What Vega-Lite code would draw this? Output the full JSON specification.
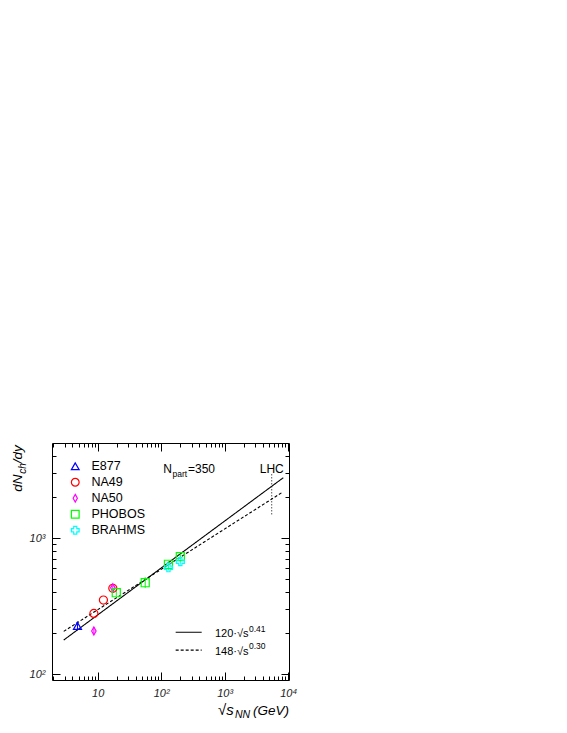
{
  "$schema": "https://vega.github.io/schema/vega-lite/v6.json",
  "width": 237,
  "height": 237,
  "autosize": "none",
  "padding": {"left": 52, "top": 443, "right": 278, "bottom": 53},
  "background": "white",
  "config": {
    "view": {"stroke": "black", "strokeWidth": 1},
    "font": "Liberation Sans"
  },
  "datasets": {
    "pts": [
      {"exp": "E877", "x": 4.8, "y": 226, "lo": 210, "hi": 243},
      {"exp": "NA49", "x": 8.7, "y": 279},
      {"exp": "NA49", "x": 12.3, "y": 350},
      {"exp": "NA49", "x": 17.3, "y": 427},
      {"exp": "NA50", "x": 8.7, "y": 207, "lo": 196, "hi": 222},
      {"exp": "NA50", "x": 17.3, "y": 430, "lo": 412, "hi": 448},
      {"exp": "PHOBOS", "x": 19.6, "y": 396, "lo": 375, "hi": 415},
      {"exp": "PHOBOS", "x": 56, "y": 469, "lo": 430, "hi": 515},
      {"exp": "PHOBOS", "x": 130, "y": 641, "lo": 610, "hi": 675},
      {"exp": "PHOBOS", "x": 200, "y": 730, "lo": 700, "hi": 765},
      {"exp": "BRAHMS", "x": 130, "y": 605, "lo": 578, "hi": 635},
      {"exp": "BRAHMS", "x": 200, "y": 670, "lo": 638, "hi": 705}
    ],
    "fits": [
      {"fit": "120", "grp": "curve120", "x": 2.915, "y": 177.8},
      {"fit": "120", "grp": "curve120", "x": 8375, "y": 2776},
      {"fit": "148", "grp": "curve148", "x": 2.915, "y": 206},
      {"fit": "148", "grp": "curve148", "x": 7907, "y": 2154},
      {"fit": "120", "grp": "key120", "x": 169, "y": 203},
      {"fit": "120", "grp": "key120", "x": 434, "y": 203},
      {"fit": "148", "grp": "key148", "x": 169, "y": 150},
      {"fit": "148", "grp": "key148", "x": 434, "y": 150}
    ],
    "lhc": [{"x": 5500, "y": 1493, "y2": 2990}],
    "notes": [
      {"kind": "main", "t": "N", "x": 108, "y": 3006},
      {"kind": "main", "t": "=350", "x": 264, "y": 3006},
      {"kind": "formula", "t": "120·√s", "x": 703, "y": 188},
      {"kind": "formula", "t": "148·√s", "x": 703, "y": 138},
      {"kind": "small", "t": "part", "x": 150.7, "y": 2831},
      {"kind": "small", "t": "0.41", "x": 2416, "y": 205},
      {"kind": "small", "t": "0.30", "x": 2416, "y": 153},
      {"kind": "center", "t": "LHC", "x": 5500, "y": 3006},
      {"kind": "ytitle", "t": "dN", "x": 0.643, "y": 2188},
      {"kind": "ytitlesub", "t": "ch", "x": 0.743, "y": 2974},
      {"kind": "ytitle", "t": " /dy", "x": 0.643, "y": 3548},
      {"kind": "xtitle", "t": "√s", "x": 784, "y": 50},
      {"kind": "xtitlesub", "t": "NN", "x": 1452, "y": 47.4},
      {"kind": "xtitleR", "t": "(GeV)", "x": 10294, "y": 50}
    ]
  },
  "layer": [
    {
      "layer": [
        {
          "data": {"name": "fits"},
          "mark": {"type": "line", "color": "black", "strokeWidth": 1.1},
          "encoding": {
            "x": {
              "field": "x", "type": "quantitative", "title": null,
              "scale": {"type": "log", "domain": [1.906, 10294], "nice": false},
              "axis": {
                "orient": "bottom",
                "values": [2,3,4,5,6,7,8,9,10,20,30,40,50,60,70,80,90,100,200,300,400,500,600,700,800,900,1000,2000,3000,4000,5000,6000,7000,8000,9000,10000],
                "labelExpr": "datum.value == 10 ? '10' : datum.value == 100 ? '10²' : datum.value == 1000 ? '10³' : datum.value == 10000 ? '10⁴' : ''",
                "tickSize": {"condition": {"test": "indexof([10,100,1000,10000], datum.value) >= 0", "value": -8}, "value": -4},
                "tickColor": "black",
                "tickWidth": 1,
                "labelPadding": 15,
                "domain": false,
                "grid": false,
                "labelFlush": false,
                "labelOverlap": false,
                "labelFont": "Liberation Sans",
                "labelFontStyle": "italic",
                "labelFontSize": 11,
                "labelColor": "#222"
              }
            },
            "y": {
              "field": "y", "type": "quantitative", "title": null,
              "scale": {"type": "log", "domain": [90.4, 4995], "nice": false},
              "axis": {
                "orient": "left",
                "values": [100,200,300,400,500,600,700,800,900,1000,2000,3000,4000],
                "labelExpr": "datum.value == 100 ? '10²' : datum.value == 1000 ? '10³' : ''",
                "tickSize": {"condition": {"test": "indexof([100,1000], datum.value) >= 0", "value": -8}, "value": -4},
                "tickColor": "black",
                "tickWidth": 1,
                "labelPadding": 15,
                "domain": false,
                "grid": false,
                "labelFlush": false,
                "labelOverlap": false,
                "labelFont": "Liberation Sans",
                "labelFontStyle": "italic",
                "labelFontSize": 11,
                "labelColor": "#222"
              }
            },
            "detail": {"field": "grp"},
            "strokeDash": {
              "field": "fit", "type": "nominal", "legend": null,
              "scale": {"domain": ["120", "148"], "range": [[1, 0], [3, 2]]}
            }
          }
        },
        {
          "data": {"name": "lhc"},
          "mark": {"type": "rule", "color": "black", "strokeWidth": 1, "strokeDash": [1, 2]},
          "encoding": {
            "x": {"field": "x", "type": "quantitative", "title": null},
            "y": {"field": "y", "type": "quantitative", "title": null},
            "y2": {"field": "y2"}
          }
        },
        {
          "data": {"name": "pts"},
          "transform": [{"filter": "isValid(datum.lo)"}],
          "mark": {"type": "rule", "strokeWidth": 1},
          "encoding": {
            "x": {"field": "x", "type": "quantitative", "title": null},
            "y": {"field": "lo", "type": "quantitative", "title": null},
            "y2": {"field": "hi"},
            "color": {
              "field": "exp", "type": "nominal",
              "scale": {"domain": ["E877", "NA49", "NA50", "PHOBOS", "BRAHMS"], "range": ["#0000ff", "#ff0000", "#ff00ff", "#00ff00", "#00ffff"]}
            }
          }
        },
        {
          "data": {"name": "pts"},
          "mark": {"type": "point", "filled": false, "size": 65, "strokeWidth": 1.2, "opacity": 1},
          "encoding": {
            "x": {"field": "x", "type": "quantitative", "title": null},
            "y": {"field": "y", "type": "quantitative", "title": null},
            "color": {
              "field": "exp", "type": "nominal",
              "scale": {"domain": ["E877", "NA49", "NA50", "PHOBOS", "BRAHMS"], "range": ["#0000ff", "#ff0000", "#ff00ff", "#00ff00", "#00ffff"]},
              "legend": {
                "orient": "none",
                "legendX": 17,
                "legendY": 17,
                "title": null,
                "symbolSize": 60,
                "symbolStrokeWidth": 1.2,
                "labelFont": "Liberation Sans",
                "labelFontSize": 12.5,
                "labelColor": "black",
                "labelOffset": 10,
                "rowPadding": 2
              }
            },
            "shape": {
              "field": "exp", "type": "nominal",
              "scale": {"domain": ["E877", "NA49", "NA50", "PHOBOS", "BRAHMS"], "range": ["triangle-up", "circle", "M0,-1L0.55,0L0,1L-0.55,0Z", "square", "cross"]}
            }
          }
        },
        {
          "data": {"name": "notes"},
          "transform": [{"filter": "datum.kind == 'main'"}],
          "mark": {"type": "text", "align": "left", "baseline": "alphabetic", "fontSize": 12, "font": "Liberation Sans", "color": "black"},
          "encoding": {
            "x": {"field": "x", "type": "quantitative", "title": null},
            "y": {"field": "y", "type": "quantitative", "title": null},
            "text": {"field": "t"}
          }
        },
        {
          "data": {"name": "notes"},
          "transform": [{"filter": "datum.kind == 'formula'"}],
          "mark": {"type": "text", "align": "left", "baseline": "alphabetic", "fontSize": 11, "font": "Liberation Sans", "color": "black"},
          "encoding": {
            "x": {"field": "x", "type": "quantitative", "title": null},
            "y": {"field": "y", "type": "quantitative", "title": null},
            "text": {"field": "t"}
          }
        },
        {
          "data": {"name": "notes"},
          "transform": [{"filter": "datum.kind == 'small'"}],
          "mark": {"type": "text", "align": "left", "baseline": "alphabetic", "fontSize": 8.5, "font": "Liberation Sans", "color": "black"},
          "encoding": {
            "x": {"field": "x", "type": "quantitative", "title": null},
            "y": {"field": "y", "type": "quantitative", "title": null},
            "text": {"field": "t"}
          }
        },
        {
          "data": {"name": "notes"},
          "transform": [{"filter": "datum.kind == 'center'"}],
          "mark": {"type": "text", "align": "center", "baseline": "alphabetic", "fontSize": 12, "font": "Liberation Sans", "color": "black"},
          "encoding": {
            "x": {"field": "x", "type": "quantitative", "title": null},
            "y": {"field": "y", "type": "quantitative", "title": null},
            "text": {"field": "t"}
          }
        },
        {
          "data": {"name": "notes"},
          "transform": [{"filter": "datum.kind == 'ytitle'"}],
          "mark": {"type": "text", "align": "left", "baseline": "alphabetic", "angle": 270, "fontSize": 13.5, "fontStyle": "italic", "font": "Liberation Sans", "color": "black"},
          "encoding": {
            "x": {"field": "x", "type": "quantitative", "title": null},
            "y": {"field": "y", "type": "quantitative", "title": null},
            "text": {"field": "t"}
          }
        },
        {
          "data": {"name": "notes"},
          "transform": [{"filter": "datum.kind == 'ytitlesub'"}],
          "mark": {"type": "text", "align": "left", "baseline": "alphabetic", "angle": 270, "fontSize": 10, "fontStyle": "italic", "font": "Liberation Sans", "color": "black"},
          "encoding": {
            "x": {"field": "x", "type": "quantitative", "title": null},
            "y": {"field": "y", "type": "quantitative", "title": null},
            "text": {"field": "t"}
          }
        },
        {
          "data": {"name": "notes"},
          "transform": [{"filter": "datum.kind == 'xtitle'"}],
          "mark": {"type": "text", "align": "left", "baseline": "alphabetic", "fontSize": 15, "fontStyle": "italic", "font": "Liberation Sans", "color": "black"},
          "encoding": {
            "x": {"field": "x", "type": "quantitative", "title": null},
            "y": {"field": "y", "type": "quantitative", "title": null},
            "text": {"field": "t"}
          }
        },
        {
          "data": {"name": "notes"},
          "transform": [{"filter": "datum.kind == 'xtitlesub'"}],
          "mark": {"type": "text", "align": "left", "baseline": "alphabetic", "fontSize": 10.5, "fontStyle": "italic", "font": "Liberation Sans", "color": "black"},
          "encoding": {
            "x": {"field": "x", "type": "quantitative", "title": null},
            "y": {"field": "y", "type": "quantitative", "title": null},
            "text": {"field": "t"}
          }
        },
        {
          "data": {"name": "notes"},
          "transform": [{"filter": "datum.kind == 'xtitleR'"}],
          "mark": {"type": "text", "align": "right", "baseline": "alphabetic", "fontSize": 13.5, "fontStyle": "italic", "font": "Liberation Sans", "color": "black"},
          "encoding": {
            "x": {"field": "x", "type": "quantitative", "title": null},
            "y": {"field": "y", "type": "quantitative", "title": null},
            "text": {"field": "t"}
          }
        }
      ]
    },
    {
      "data": {"name": "pts"},
      "mark": {"type": "point", "opacity": 0},
      "encoding": {
        "x": {
          "field": "x", "type": "quantitative", "title": null,
          "scale": {"type": "log", "domain": [1.906, 10294], "nice": false},
          "axis": {
            "orient": "top",
            "values": [2,3,4,5,6,7,8,9,10,20,30,40,50,60,70,80,90,100,200,300,400,500,600,700,800,900,1000,2000,3000,4000,5000,6000,7000,8000,9000,10000],
            "tickSize": {"condition": {"test": "indexof([10,100,1000,10000], datum.value) >= 0", "value": -8}, "value": -4},
            "tickColor": "black",
            "labels": false,
            "domain": false,
            "grid": false
          }
        },
        "y": {
          "field": "y", "type": "quantitative", "title": null,
          "scale": {"type": "log", "domain": [90.4, 4995], "nice": false},
          "axis": {
            "orient": "right",
            "values": [100,200,300,400,500,600,700,800,900,1000,2000,3000,4000],
            "tickSize": {"condition": {"test": "indexof([100,1000], datum.value) >= 0", "value": -8}, "value": -4},
            "tickColor": "black",
            "labels": false,
            "domain": false,
            "grid": false
          }
        }
      }
    }
  ],
  "resolve": {"axis": {"x": "independent", "y": "independent"}}
}
